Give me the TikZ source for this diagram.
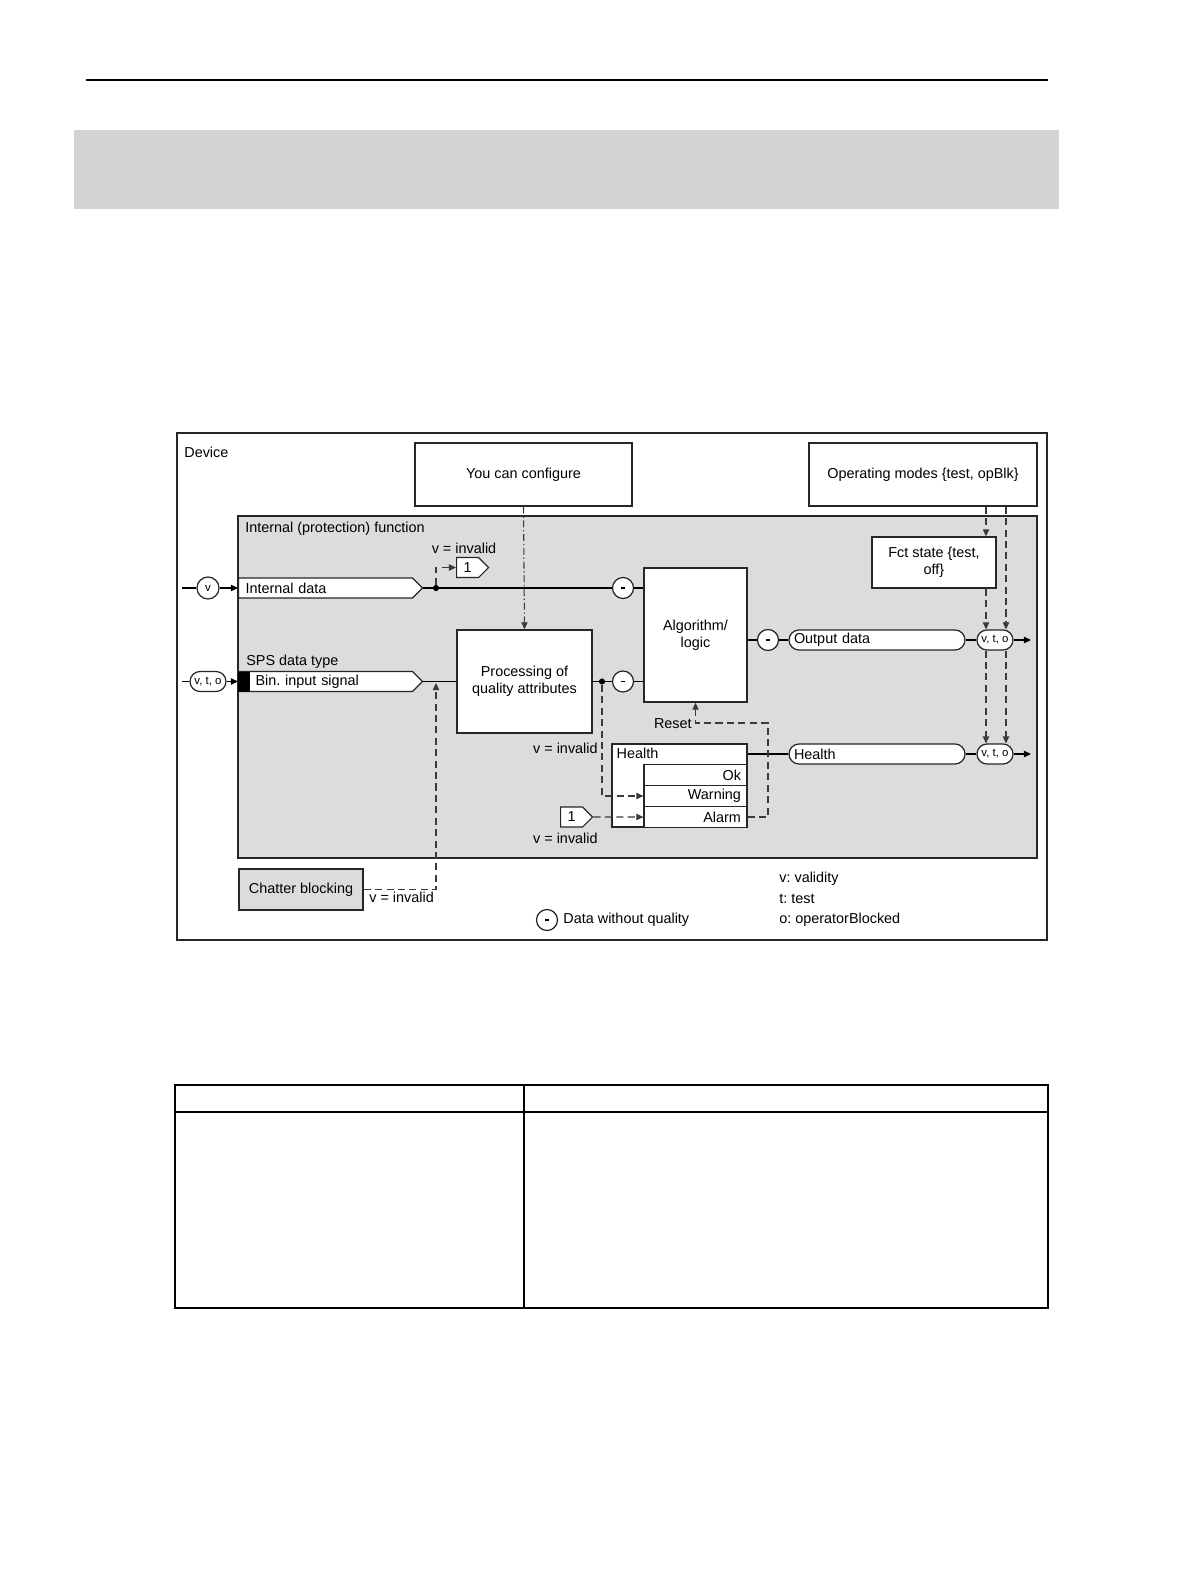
\documentclass[tikz,border=0pt]{standalone}
\usepackage{fontspec}
\setmainfont{Liberation Sans}
\usepackage{xcolor}
\usetikzlibrary{shapes.symbols, shapes.misc, arrows.meta, positioning, calc}
\definecolor{fngray}{HTML}{DCDCDC}
\definecolor{bandgray}{HTML}{D3D3D3}
\definecolor{edge}{HTML}{262626}
\definecolor{dashc}{HTML}{3A3A3A}
\newcommand{\noqual}{\rule{2.8pt}{1pt}}
\tikzset{
  txt/.style={font=\fontsize{8.2}{9.8}\selectfont, inner sep=0pt},
  blk/.style={draw=edge, line width=0.8pt, fill=white, align=center,
              font=\fontsize{8.2}{9.8}\selectfont},
  flag/.style={signal, signal to=east, signal pointer angle=90, draw=edge,
               line width=0.7pt, fill=white, minimum height=0.4cm,
               inner ysep=0pt, inner xsep=0.14cm, anchor=west, align=left,
               font=\fontsize{8.2}{9.8}\selectfont},
  pill/.style={draw=edge, line width=0.7pt, fill=white, rounded corners=0.2cm,
               minimum height=0.4cm, inner ysep=0pt, inner xsep=0.1cm,
               text width=3.32cm, align=left, font=\fontsize{8.2}{9.8}\selectfont},
  qual/.style={circle, draw=edge, line width=0.7pt, fill=white,
               minimum size=0.42cm, inner sep=0pt, font=\fontsize{8}{8}\selectfont},
  vto/.style={draw=edge, line width=0.7pt, fill=white, rounded corners=0.2cm,
              minimum width=0.72cm, minimum height=0.4cm, inner sep=0pt,
              font=\fontsize{6.5}{7}\selectfont},
  rowbox/.style={draw=edge, line width=0.7pt, fill=white, minimum height=0.42cm,
                 text width=1.82cm, inner xsep=0.12cm, inner ysep=0pt,
                 align=right, font=\fontsize{8.2}{9.8}\selectfont},
  wire/.style={line width=0.6pt, draw=black},
  arr/.style={-{Triangle[length=4pt,width=3.6pt]}},
  dsh/.style={dash pattern=on 4pt off 2.5pt, draw=dashc, line width=0.6pt},
  jdot/.style={circle, fill=black, inner sep=0pt, minimum size=3.5pt}
}

\begin{document}
\frenchspacing
\begin{tikzpicture}[x=0.02cm, y=-0.02cm]
  \useasboundingbox (0,0) rectangle (1191,1587);

  % Page furniture
  \draw[line width=1pt] (86,80) -- (1048,80);
  \fill[bandgray] (74,130) rectangle (1059,209);

  % Device frame and function area
  \node[draw=edge, line width=0.9pt, minimum width=17.4cm, minimum height=10.14cm]
    (device) at (612,686.5) {};
  \node[txt, anchor=west] at (184,452) {Device};
  \node[draw=edge, line width=0.8pt, fill=fngray, minimum width=15.98cm,
        minimum height=6.84cm]
    (func) at (637.5,687) {};
  \node[txt, anchor=west] at (245,529) {Internal (protection) function};

  % Configuration boxes
  \node[blk, minimum width=4.34cm, minimum height=1.26cm]
    (config) at (523.5,474.5) {You can configure};
  \node[blk, minimum width=4.56cm, minimum height=1.26cm]
    (opmodes) at (923,474.5) {Operating modes \{test, opBlk\}};
  \node[blk, minimum width=2.48cm, minimum height=1.02cm]
    (fct) at (934,562.5) {Fct state \{test,\\ off\}};

  % Processing blocks
  \node[blk, minimum width=2.7cm, minimum height=2.06cm]
    (proc) at (524.5,681.5) {Processing of\\quality attributes};
  \node[blk, minimum width=2.06cm, minimum height=2.68cm]
    (algo) at (695.5,635) {Algorithm/\\logic};

  % Inputs
  \node[qual, minimum size=0.44cm, font=\fontsize{6.5}{7}\selectfont]
    (vin) at (208,588) {v};
  \node[flag, text width=3.2cm]
    (intdata) at (238,588) {Internal data};
  \node[txt, anchor=west] at (246,662) {SPS data type};
  \node[vto] (vtoin) at (208,681.5) {v, t, o};
  \node[flag, text width=3.2cm]
    (bin) at (238,681.5) {\hspace*{0.2cm}Bin. input signal};
  \node[fill=black, minimum width=0.24cm, minimum height=0.4cm, inner sep=0pt,
        anchor=west]
    (binmark) at (bin.west) {};
  \coordinate (stub1) at (182,588);
  \coordinate (stub2) at (182,681.5);

  % Quality-free markers
  \node[qual] (m1) at (623,588) {\noqual};
  \node[qual] (m2) at (623,681.5) {\noqual};
  \node[qual] (m3) at (768,640) {\noqual};

  % Invalid flags
  \node[flag, minimum width=0.64cm, inner xsep=0.1cm]
    (one1) at (456,567.5) {1};
  \node[txt] at (464,548) {v = invalid};
  \node[flag, minimum width=0.64cm, inner xsep=0.1cm]
    (one2) at (560,817) {1};
  \node[txt, anchor=east] at (598,748) {v = invalid};
  \node[txt, anchor=east] at (598,838) {v = invalid};

  % Health
  \node[draw=edge, line width=0.8pt, fill=white, minimum width=2.7cm,
        minimum height=1.66cm]
    (hbox) at (679.5,785.5) {};
  \node[txt, anchor=west] at ($(hbox.north west)+(5,10)$) {Health};
  \node[rowbox] (ok) at (695.5,775) {Ok};
  \node[rowbox] (warn) at (695.5,796) {Warning};
  \node[rowbox] (alarm) at (695.5,817) {Alarm};

  % Outputs
  \node[pill] (outdata) at (877,640) {Output data};
  \node[pill] (hpill) at (877,754) {Health};
  \node[vto] (vto1) at (995,640) {v, t, o};
  \node[vto] (vto2) at (995,754) {v, t, o};
  \coordinate (out1) at (1031,640);
  \coordinate (out2) at (1031,754);

  % Chatter blocking
  \node[blk, fill=fngray, minimum width=2.48cm, minimum height=0.82cm]
    (chatter) at (301,889.5) {Chatter blocking};
  \node[txt, anchor=west] at (369,897) {v = invalid};

  % Legend
  \node[qual] (lgm) at (547,920) {\noqual};
  \node[txt, right=0.1cm of lgm] {Data without quality};
  \node[txt, anchor=west] (lgv) at (779,879) {v: validity};
  \node[txt, anchor=west] (lgt) at (779,899) {t: test};
  \node[txt, anchor=west] (lgo) at (779,920) {o: operatorBlocked};

  % Solid signal paths
  \draw[wire] (stub1) -- (vin);
  \draw[wire,arr] (vin) -- (intdata.west);
  \draw[wire] (stub2) -- (vtoin);
  \draw[wire,arr] (vtoin) -- (binmark.west);
  \draw[wire] (intdata.east) -- (m1) -- (m1 -| algo.west);
  \draw[wire] (bin.east) -- (proc.west);
  \draw[wire] (proc.east) -- (m2) -- (m2 -| algo.west);
  \draw[wire] (algo.east |- m3) -- (m3) -- (outdata) -- (vto1);
  \draw[wire,arr] (vto1) -- (out1);
  \draw[wire] (hpill.west -| hbox.east) -- (hpill) -- (vto2);
  \draw[wire,arr] (vto2) -- (out2);
  \node[jdot] (j1) at (436,588) {};
  \node[jdot] (j2) at (602,681.5) {};

  % Dashed control paths
  \draw[dsh,arr] (j1) |- (one1.west);
  \draw[dsh,arr] (j2) |- (warn.west);
  \draw[dsh,arr] (one2) -- (alarm.west);
  \coordinate (cbin) at (436,683);
  \draw[dsh,arr] (chatter.east) -| (cbin);
  \coordinate (rst) at (768,723);
  \draw[dsh,arr] (alarm.east) -| (rst) -- (rst -| algo.south) -- (algo.south);
  \node[txt, anchor=east] at (692,724) {Reset};
  \draw[dsh,arr, dash pattern=on 4pt off 1.5pt on 0.8pt off 1.5pt]
    (config.south) -- (proc.north);

  % Mode distribution
  \coordinate (ta) at (986,0);
  \coordinate (tb) at (1006,0);
  \draw[dsh,arr] (opmodes.south -| ta) -- (fct.north -| ta);
  \draw[dsh,arr] (fct.south -| ta) -- (vto1.north -| ta);
  \draw[dsh,arr] (vto1.south -| ta) -- (vto2.north -| ta);
  \draw[dsh,arr] (opmodes.south -| tb) -- (vto1.north -| tb);
  \draw[dsh,arr] (vto1.south -| tb) -- (vto2.north -| tb);

  % Table below
  \draw[line width=0.9pt] (175,1085) rectangle (1048,1308);
  \draw[line width=0.9pt] (175,1112) -- (1048,1112);
  \draw[line width=0.9pt] (524,1085) -- (524,1308);
\end{tikzpicture}
\end{document}
